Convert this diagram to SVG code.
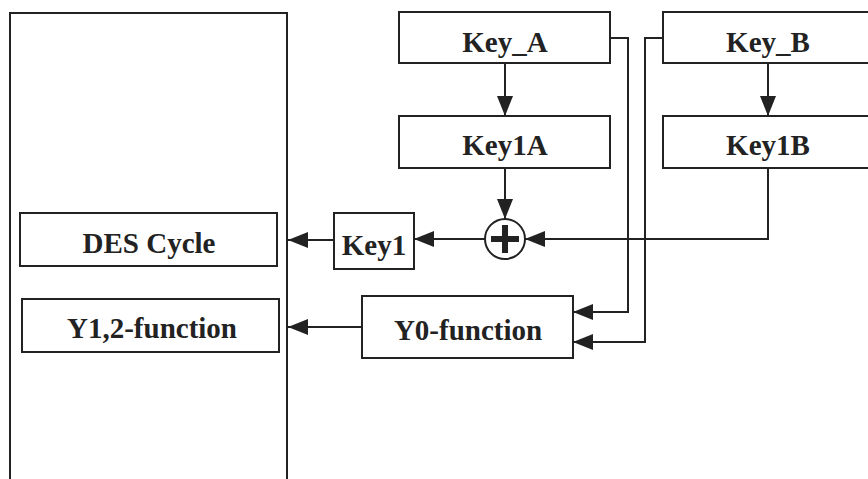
<svg xmlns="http://www.w3.org/2000/svg" width="868" height="479" viewBox="0 0 868 479">
  <style>
    .box { fill: #ffffff; stroke: #222; stroke-width: 2; }
    .lbl { font-family: 'Liberation Serif', 'DejaVu Serif', 'Times New Roman', serif; font-weight: 700; font-size: 29px; fill: #222; text-anchor: middle; }
    .wire { fill: none; stroke: #222; stroke-width: 2; }
  </style>
  <defs>
    <marker id="arrow" markerUnits="userSpaceOnUse" markerWidth="20" markerHeight="16" refX="20" refY="8" orient="auto">
      <path d="M0,0 L20,8 L0,16 Z" fill="#222"/>
    </marker>
  </defs>
  <rect width="868" height="479" fill="#ffffff"/>

  <!-- outer block holding the DES cycle and Y1,2 function -->
  <g id="des-block">
    <rect class="box" x="10" y="13" width="277" height="480"/>
  </g>
  <g id="des-cycle">
    <rect class="box" x="20" y="213" width="257" height="53"/>
    <text class="lbl" x="149" y="253">DES Cycle</text>
  </g>
  <g id="y12-function">
    <rect class="box" x="22" y="299" width="257" height="53"/>
    <text class="lbl" x="152" y="338">Y1,2-function</text>
  </g>

  <g id="key-a">
    <rect class="box" x="399" y="12" width="211" height="51"/>
    <text class="lbl" x="505" y="52">Key_A</text>
  </g>
  <g id="key1a">
    <rect class="box" x="399" y="116" width="211" height="52"/>
    <text class="lbl" x="505" y="155">Key1A</text>
  </g>
  <g id="key-b">
    <rect class="box" x="663" y="12" width="220" height="51"/>
    <text class="lbl" x="768" y="52">Key_B</text>
  </g>
  <g id="key1b">
    <rect class="box" x="663" y="116" width="220" height="52"/>
    <text class="lbl" x="768" y="155">Key1B</text>
  </g>
  <g id="xor">
    <circle cx="505" cy="239" r="20" fill="#ffffff" stroke="#222" stroke-width="2"/>
    <path d="M491,239 H519 M505,225 V253" stroke="#222" stroke-width="6" fill="none"/>
  </g>
  <g id="key1">
    <rect class="box" x="334" y="213" width="80" height="56"/>
    <text class="lbl" x="374" y="255">Key1</text>
  </g>
  <g id="y0-function">
    <rect class="box" x="362" y="296" width="211" height="62"/>
    <text class="lbl" x="468" y="340">Y0-function</text>
  </g>

  <g id="connectors">
    <path class="wire" d="M505,63 V116" marker-end="url(#arrow)"/>
    <path class="wire" d="M768,63 V116" marker-end="url(#arrow)"/>
    <path class="wire" d="M505,168 V219" marker-end="url(#arrow)"/>
    <path class="wire" d="M768,168 V239 H525" marker-end="url(#arrow)"/>
    <path class="wire" d="M485,239 H414" marker-end="url(#arrow)"/>
    <path class="wire" d="M334,240 H288" marker-end="url(#arrow)"/>
    <path class="wire" d="M610,38 H628 V312 H573" marker-end="url(#arrow)"/>
    <path class="wire" d="M663,38 H645 V342 H573" marker-end="url(#arrow)"/>
    <path class="wire" d="M362,327 H288" marker-end="url(#arrow)"/>
  </g>
</svg>
